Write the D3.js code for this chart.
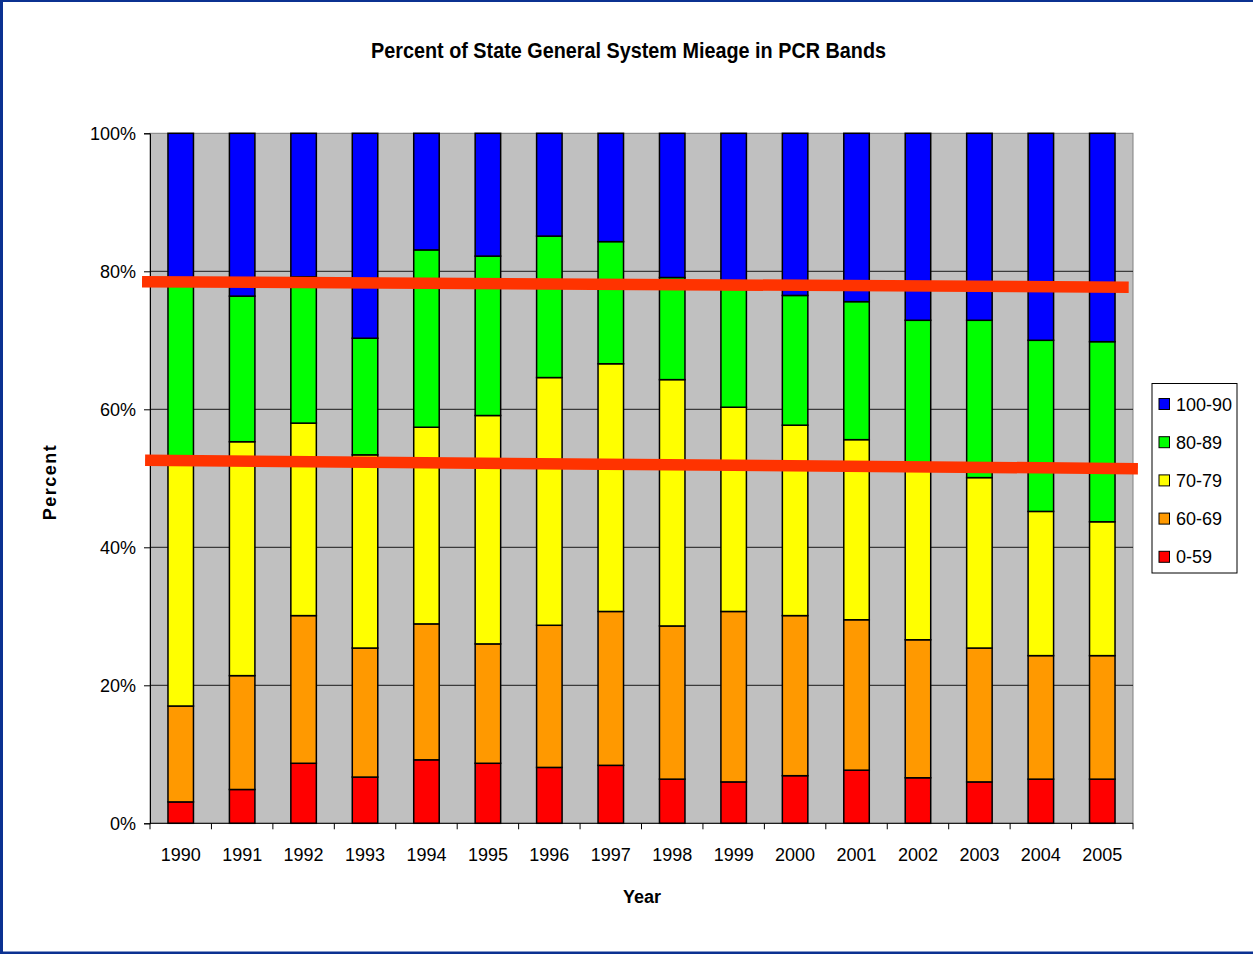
<!DOCTYPE html>
<html lang="en">
<head>
<meta charset="utf-8">
<title>PCR Bands</title>
<script src="https://d3js.org/d3.v7.min.js"></script>
<style>
  html, body { margin: 0; padding: 0; background: #fff; }
  svg text { font-family: "Liberation Sans", Arial, sans-serif; fill: #000; }
  .tick-label { font-size: 18px; }
  .axis-title { font-size: 18px; font-weight: bold; }
</style>
</head>
<body>
<script>
// years on the x axis
const years = ["1990","1991","1992","1993","1994","1995","1996","1997",
               "1998","1999","2000","2001","2002","2003","2004","2005"];

// percent of mileage in each PCR band (bottom to top)
const band059   = [3.1, 4.9, 8.7, 6.7, 9.2, 8.7, 8.1, 8.4, 6.4, 6.0, 6.9, 7.7, 6.6, 6.0, 6.4, 6.4];
const band6069  = [13.9, 16.5, 21.4, 18.7, 19.7, 17.3, 20.6, 22.3, 22.2, 24.7, 23.2, 21.8, 20.0, 19.4, 17.9, 17.9];
const band7079  = [35.5, 33.9, 27.9, 28.0, 28.5, 33.1, 35.9, 35.9, 35.7, 29.6, 27.6, 26.1, 25.4, 24.7, 20.9, 19.4];
const band8089  = [26.5, 21.1, 21.2, 16.9, 25.7, 23.1, 20.5, 17.7, 14.8, 17.7, 18.8, 20.0, 20.9, 22.8, 24.8, 26.1];
const band10090 = [21.0, 23.6, 20.8, 29.7, 16.9, 17.8, 14.9, 15.7, 20.9, 22.0, 23.5, 24.4, 27.1, 27.1, 30.0, 30.2];

const bandNames = ["0-59", "60-69", "70-79", "80-89", "100-90"];
const bandColors = ["#ff0000", "#ff9900", "#ffff00", "#00ff00", "#0000ff"];

const yTicks = [0, 20, 40, 60, 80, 100];

// hand drawn red lines (year position, percent)
const upperLine = [{x: 1989.37, y: 78.5}, {x: 2005.43, y: 77.7}];
const lowerLine = [{x: 1989.42, y: 52.6}, {x: 2005.58, y: 51.4}];

const W = 1253, H = 954;
const plotL = 150, plotR = 1133, plotT = 133.3, plotB = 823.3;

const svg = d3.select("body").append("svg")
    .attr("width", W).attr("height", H);

// slide frame
svg.append("rect").attr("x", 0).attr("y", 0).attr("width", W).attr("height", H).attr("fill", "#0b3191");
svg.append("rect").attr("x", 3).attr("y", 2).attr("width", W - 3).attr("height", 949.5).attr("fill", "#fff");

// build rows for the stack
const rows = years.map((yr, i) => ({
    year: yr,
    "0-59": band059[i],
    "60-69": band6069[i],
    "70-79": band7079[i],
    "80-89": band8089[i],
    "100-90": band10090[i]
}));

const x = d3.scaleBand().domain(years).range([plotL, plotR])
    .paddingInner(0.585).paddingOuter(0.2925);
const xLin = d3.scaleLinear().domain([1989.5, 2005.5]).range([plotL, plotR]);
const y = d3.scaleLinear().domain([0, 100]).range([plotB, plotT]);

// plot background
svg.append("rect")
    .attr("x", plotL).attr("y", plotT)
    .attr("width", plotR - plotL).attr("height", plotB - plotT)
    .attr("fill", "#c0c0c0")
    .attr("stroke", "#808080").attr("stroke-width", 1);

// gridlines
svg.append("g").selectAll("line")
    .data(yTicks.filter(d => d > 0 && d < 100))
    .join("line")
    .attr("x1", plotL).attr("x2", plotR)
    .attr("y1", d => y(d)).attr("y2", d => y(d))
    .attr("stroke", "#1a1a1a").attr("stroke-width", 1);

// stacked bars
const stack = d3.stack().keys(bandNames)(rows);
svg.append("g").selectAll("g")
    .data(stack)
    .join("g")
    .attr("fill", (d, i) => bandColors[i])
    .selectAll("rect")
    .data(d => d)
    .join("rect")
    .attr("x", d => x(d.data.year))
    .attr("width", x.bandwidth())
    .attr("y", d => y(d[1]))
    .attr("height", d => y(d[0]) - y(d[1]))
    .attr("stroke", "#000").attr("stroke-width", 1.5);

// y axis
const yAxis = svg.append("g")
    .attr("transform", `translate(${plotL},0)`)
    .call(d3.axisLeft(y).tickValues(yTicks).tickFormat(d => d + "%").tickSize(6).tickPadding(8));
yAxis.select(".domain").attr("stroke", "#000");
yAxis.selectAll(".tick line").attr("stroke", "#000");
yAxis.selectAll(".tick text").attr("class", "tick-label");
yAxis.attr("font-size", null).attr("font-family", null);

// x axis: tick marks between categories
const xAxisG = svg.append("g").attr("transform", `translate(0,${plotB})`);
xAxisG.append("line").attr("x1", plotL).attr("x2", plotR).attr("stroke", "#000");
xAxisG.selectAll(".sep")
    .data(d3.range(years.length + 1))
    .join("line")
    .attr("class", "sep")
    .attr("x1", i => xLin(1989.5 + i)).attr("x2", i => xLin(1989.5 + i))
    .attr("y1", 0).attr("y2", 6)
    .attr("stroke", "#000");
xAxisG.selectAll("text")
    .data(years)
    .join("text")
    .attr("class", "tick-label")
    .attr("x", d => x(d) + x.bandwidth() / 2)
    .attr("y", 38)
    .attr("text-anchor", "middle")
    .text(d => d);

// red lines
const line = d3.line().x(d => xLin(d.x)).y(d => y(d.y));
[upperLine, lowerLine].forEach(pts => {
    svg.append("path")
        .attr("d", line(pts))
        .attr("fill", "none")
        .attr("stroke", "#ff3300")
        .attr("stroke-width", 11.5);
});

// titles
svg.append("text")
    .attr("x", 628.5).attr("y", 58)
    .attr("text-anchor", "middle")
    .attr("font-size", 22.5).attr("font-weight", "bold")
    .attr("textLength", 515).attr("lengthAdjust", "spacingAndGlyphs")
    .text("Percent of State General System Mieage in PCR Bands");

svg.append("text")
    .attr("class", "axis-title")
    .attr("x", 642).attr("y", 903)
    .attr("text-anchor", "middle")
    .text("Year");

svg.append("text")
    .attr("class", "axis-title")
    .attr("transform", "translate(56,482) rotate(-90)")
    .attr("text-anchor", "middle")
    .attr("letter-spacing", 1.5)
    .text("Percent");

// legend
const legend = svg.append("g").attr("transform", "translate(1152,383.5)");
legend.append("rect")
    .attr("width", 85).attr("height", 189.5)
    .attr("fill", "#fff").attr("stroke", "#000");
const items = legend.selectAll("g.item")
    .data(bandNames.map((n, i) => ({name: n, color: bandColors[i]})).reverse())
    .join("g")
    .attr("class", "item")
    .attr("transform", (d, i) => `translate(0,${i * 38.2})`);
items.append("rect")
    .attr("x", 7).attr("y", 15).attr("width", 10.5).attr("height", 11)
    .attr("fill", d => d.color).attr("stroke", "#000");
items.append("text")
    .attr("class", "tick-label")
    .attr("x", 24).attr("y", 27)
    .text(d => d.name);
</script>
</body>
</html>
